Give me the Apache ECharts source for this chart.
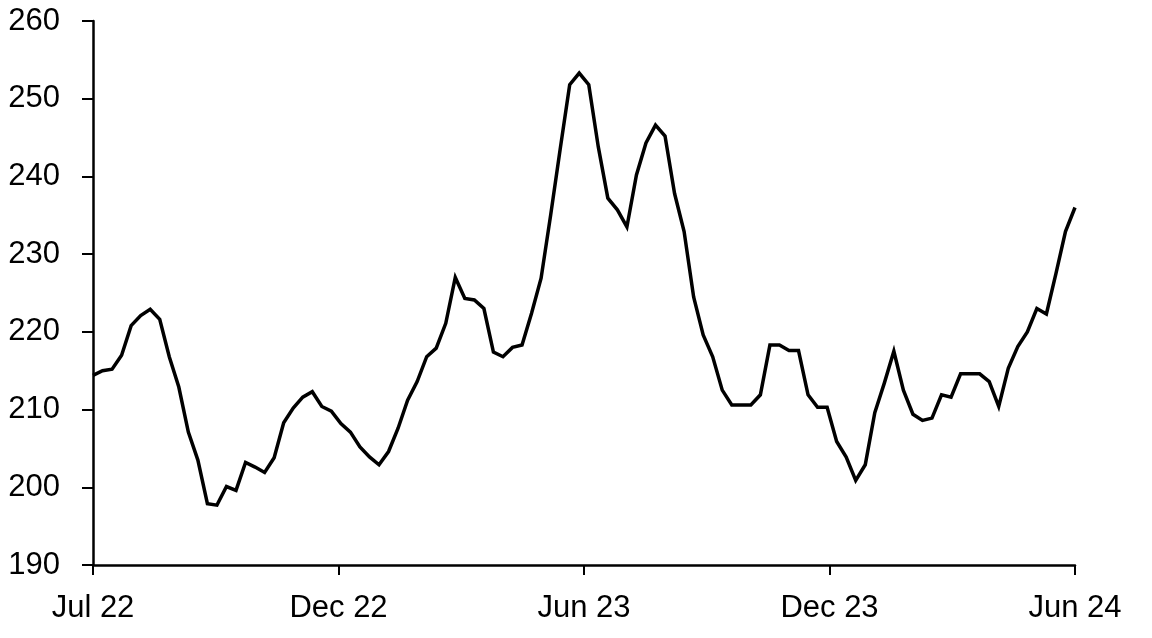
<!DOCTYPE html>
<html>
<head>
<meta charset="utf-8">
<script src="https://cdn.jsdelivr.net/npm/echarts@6/dist/echarts.min.js"></script>
<style>html,body{margin:0;padding:0;background:#fff}#c{width:1152px;height:638px}</style>
</head>
<body>
<div id="c"></div>
<script>
var values = [
214.4,215.0,215.2,217.0,220.8,222.1,222.9,221.6,216.8,212.9,
207.1,203.5,197.9,197.7,200.1,199.6,203.2,202.6,201.9,203.8,
208.3,210.2,211.6,212.3,210.4,209.8,208.2,207.1,205.2,203.9,
202.9,204.6,207.6,211.2,213.6,216.8,217.9,221.1,227.0,224.3,
224.1,223.0,217.4,216.8,218.0,218.3,222.4,226.9,235.0,243.5,
251.8,253.3,251.8,243.8,237.2,235.7,233.5,240.2,244.3,246.6,
245.2,237.8,232.9,224.5,219.6,216.8,212.5,210.6,210.6,210.6,
211.9,218.3,218.3,217.6,217.6,211.9,210.3,210.3,205.9,203.9,
200.9,202.9,209.6,213.4,217.5,212.5,209.4,208.6,208.9,211.9,
211.6,214.6,214.6,214.6,213.6,210.4,215.3,218.1,220.0,223.0,
222.3,227.5,232.9,236.0
];
var tickLabels = ['Jul 22','Dec 22','Jun 23','Dec 23','Jun 24'];
var yTicks = [190,200,210,220,230,240,250,260];

var last = values.length - 1;
var tickStep = last / (tickLabels.length - 1);
var seriesData = values.map(function(v, i){ return [i, v]; });

var chart = echarts.init(document.getElementById('c'), null, {renderer:'canvas'});
var font = '"Liberation Sans", Arial, sans-serif';
chart.setOption({
  animation: false,
  backgroundColor: '#fff',
  grid: {left: 93, right: 77, top: 21, bottom: 73, containLabel: false, outerBoundsMode: 'none'},
  xAxis: {
    type: 'value',
    min: 0, max: last, interval: tickStep,
    axisLine: {show: true, onZero: false, lineStyle: {color: '#000', width: 2.5}},
    axisTick: {show: true, inside: false, length: 10, lineStyle: {color: '#000', width: 2}},
    splitLine: {show: false},
    axisLabel: {
      margin: 28, color: '#000', fontSize: 31, fontFamily: font,
      showMinLabel: true, showMaxLabel: true,
      formatter: function(v){ var k = Math.round(v / tickStep); return tickLabels[k] || ''; }
    }
  },
  yAxis: {
    type: 'value',
    min: yTicks[0], max: yTicks[yTicks.length-1], interval: 10,
    axisLine: {show: true, lineStyle: {color: '#000', width: 2.5}},
    axisTick: {show: true, inside: false, length: 11, lineStyle: {color: '#000', width: 2}},
    splitLine: {show: false},
    axisLabel: {margin: 33, color: '#000', fontSize: 31, fontFamily: font}
  },
  series: [{
    type: 'line',
    data: seriesData,
    showSymbol: false,
    symbol: 'none',
    lineStyle: {color: '#000', width: 3.5, join: 'miter'},
    clip: false
  }]
});
</script>
</body>
</html>
